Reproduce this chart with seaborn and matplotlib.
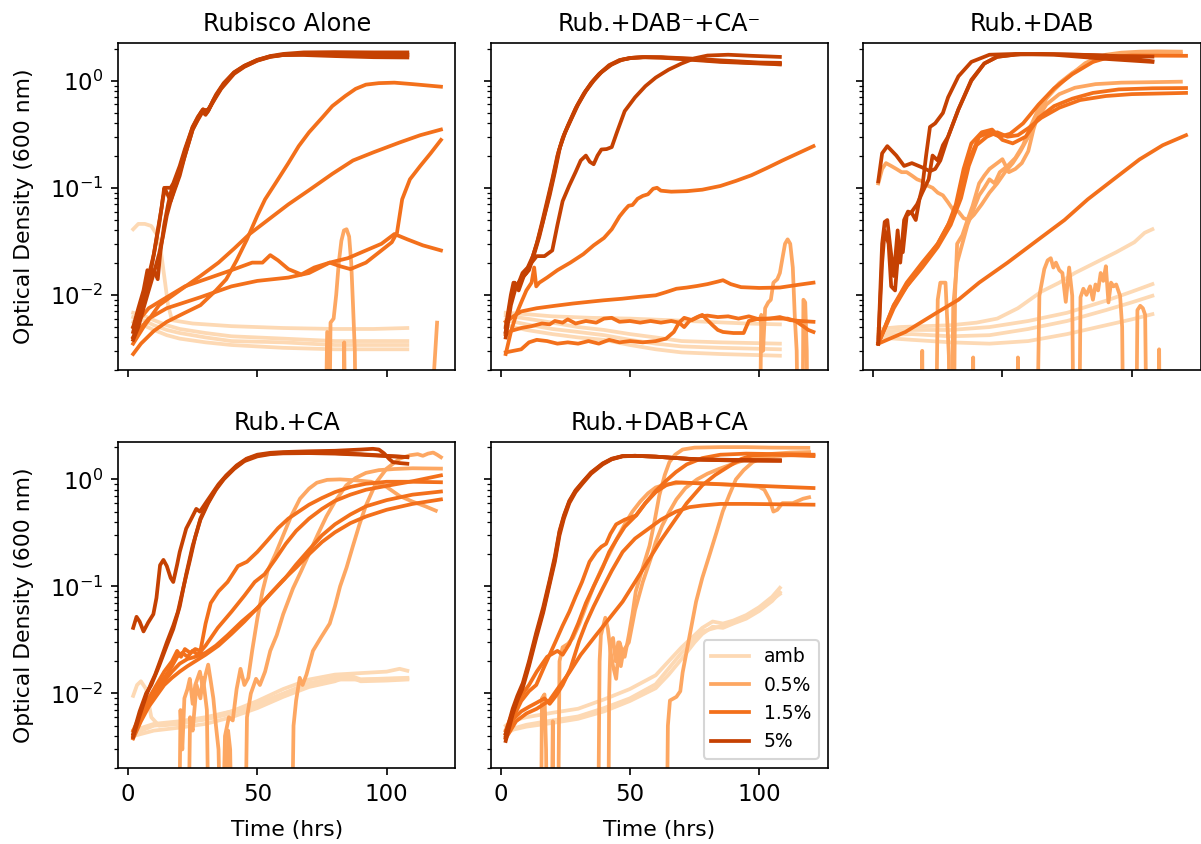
import pandas as pd
import matplotlib
matplotlib.use("Agg")
import matplotlib.pyplot as plt
from matplotlib.lines import Line2D
import seaborn as sns

# CO2 levels and panel titles
co2_levels = ["amb", "0.5%", "1.5%", "5%"]
panel_titles = ["Rubisco Alone", "Rub.+DAB\u207b+CA\u207b", "Rub.+DAB", "Rub.+CA", "Rub.+DAB+CA"]

# each curve is a list of [time (hrs), OD600]; 1e-4 = reading below the axis (blank-subtracted <= 0)

# ---- Rubisco Alone ----
alone_amb = [
    [[2, 0.041], [4, 0.046], [6.5, 0.046], [9, 0.044], [11, 0.037], [12.5, 0.028], [14, 0.015], [15.5, 0.008],
     [17, 0.0058], [25, 0.0054], [40, 0.0051], [60, 0.0049], [80, 0.0048], [95, 0.0048], [108, 0.0049]],
    [[2, 0.0068], [6, 0.0064], [10, 0.0058], [15, 0.0052], [20, 0.0048], [30, 0.0044], [40, 0.0041], [60, 0.0039],
     [80, 0.0037], [108, 0.0037]],
    [[2, 0.0062], [6, 0.0058], [10, 0.0052], [15, 0.0047], [20, 0.0044], [30, 0.004], [40, 0.0037], [60, 0.0036],
     [80, 0.0034], [108, 0.0034]],
    [[2, 0.0056], [6, 0.0052], [10, 0.0047], [15, 0.0042], [20, 0.0039], [30, 0.0036], [40, 0.0034], [60, 0.0032],
     [80, 0.0031], [108, 0.0031]],
]
alone_p05 = [
    [[2, 1e-4], [76, 1e-4], [77, 0.0045], [77.6, 1e-4], [78.3, 0.0055], [79.5, 0.006], [80.5, 0.01], [81.5, 0.02],
     [82.5, 0.032], [83.5, 0.04], [84.5, 0.041], [85.5, 0.035], [86.3, 0.02], [87, 0.008], [87.7, 0.003],
     [88.3, 1e-4], [121, 1e-4]],
    [[2, 1e-4], [83, 1e-4], [83.6, 0.0036], [84.3, 1e-4], [115, 1e-4], [119.5, 0.0055]],
]
alone_p15 = [
    [[2, 0.0035], [6, 0.005], [12, 0.008], [20, 0.011], [28, 0.015], [35, 0.02], [41, 0.027], [47, 0.037],
     [55, 0.052], [62, 0.07], [70, 0.095], [79, 0.135], [87, 0.18], [95, 0.215], [105, 0.265], [113, 0.31],
     [121, 0.35]],
    [[2, 0.0028], [5, 0.0035], [10, 0.0046], [15, 0.0056], [22, 0.0068], [28, 0.008], [34, 0.011], [38, 0.014],
     [42, 0.021], [46, 0.033], [50, 0.055], [53, 0.078], [57, 0.11], [62, 0.17], [66, 0.245], [70, 0.33],
     [75, 0.45], [79, 0.58], [84, 0.72], [88, 0.84], [92, 0.92], [97, 0.95], [103, 0.96], [110, 0.93], [121, 0.88]],
    [[2, 0.005], [8, 0.0075], [15, 0.0095], [22, 0.012], [30, 0.014], [40, 0.017], [48, 0.02], [52, 0.02],
     [55, 0.0235], [58, 0.021], [62, 0.0174], [67, 0.0155], [72, 0.018], [78, 0.02], [85, 0.022], [92, 0.026],
     [98, 0.03], [103, 0.037], [108, 0.033], [114, 0.029], [121, 0.026]],
    [[2, 0.004], [8, 0.006], [15, 0.0075], [28, 0.0095], [40, 0.012], [50, 0.0135], [62, 0.0145], [70, 0.016],
     [78, 0.02], [82, 0.0185], [86, 0.0174], [92, 0.02], [98, 0.026], [102, 0.031], [104, 0.038], [106, 0.078],
     [109, 0.12], [113, 0.16], [117, 0.21], [121, 0.28]],
]
alone_p5 = [
    [[2, 0.0045], [4, 0.007], [6, 0.01], [8, 0.015], [10, 0.024], [12, 0.045], [13.5, 0.08], [14.5, 0.1],
     [16.5, 0.1], [17.5, 0.11], [20, 0.16], [22, 0.23], [25, 0.37], [27, 0.45], [28.5, 0.52], [30, 0.48],
     [31.5, 0.56], [34, 0.74], [37, 0.95], [41, 1.2], [45, 1.38], [50, 1.56], [55, 1.7], [60, 1.78], [68, 1.84],
     [80, 1.85], [95, 1.84], [108, 1.84]],
    [[2, 0.004], [4, 0.0055], [6, 0.0085], [8, 0.012], [10, 0.017], [11.5, 0.014], [12.5, 0.025], [14, 0.045],
     [15.5, 0.07], [17, 0.1], [18.5, 0.105], [20, 0.14], [22, 0.2], [25, 0.35], [27, 0.44], [29, 0.54],
     [30.5, 0.5], [32, 0.58], [34, 0.72], [37, 0.93], [41, 1.18], [45, 1.36], [50, 1.55], [55, 1.68], [60, 1.75],
     [68, 1.78], [80, 1.77], [95, 1.74], [108, 1.73]],
    [[2, 0.005], [4, 0.0075], [6, 0.011], [7.5, 0.017], [8.5, 0.015], [10, 0.024], [11.5, 0.04], [13, 0.065],
     [14, 0.1], [15, 0.09], [16.5, 0.075], [18, 0.1], [20, 0.15], [22, 0.22], [25, 0.37], [27, 0.46],
     [29, 0.54], [31, 0.52], [33, 0.66], [36, 0.86], [41, 1.19], [45, 1.38], [50, 1.57], [55, 1.69], [60, 1.74],
     [68, 1.74], [80, 1.7], [95, 1.66], [108, 1.65]],
    [[2, 0.0038], [4, 0.005], [6, 0.0075], [8, 0.011], [10, 0.016], [12, 0.024], [13.5, 0.035], [15, 0.055],
     [16.5, 0.075], [18, 0.095], [20, 0.13], [22, 0.2], [25, 0.35], [27, 0.43], [29, 0.52], [31, 0.54],
     [33, 0.64], [36, 0.84], [41, 1.16], [45, 1.35], [50, 1.54], [55, 1.67], [60, 1.74], [68, 1.78],
     [80, 1.77], [95, 1.76], [108, 1.76]],
]

# ---- Rub.+DAB-+CA- ----
dabmut_amb = [
    [[2, 0.0068], [10, 0.0066], [20, 0.0063], [35, 0.0061], [50, 0.006], [65, 0.0058], [80, 0.0056], [95, 0.0054],
     [108, 0.0053]],
    [[2, 0.0064], [10, 0.006], [20, 0.0055], [30, 0.005], [40, 0.0047], [50, 0.0043], [60, 0.004], [70, 0.0037],
     [85, 0.0036], [108, 0.0035]],
    [[2, 0.0058], [10, 0.0053], [20, 0.0048], [30, 0.0045], [40, 0.0042], [50, 0.0038], [60, 0.0035], [70, 0.0033],
     [85, 0.0032], [108, 0.0031]],
    [[2, 0.0052], [10, 0.0047], [20, 0.0043], [30, 0.004], [40, 0.0038], [50, 0.0034], [60, 0.0031], [70, 0.0029],
     [85, 0.0028], [108, 0.0027]],
]
dabmut_p05 = [
    [[2, 1e-4], [100, 1e-4], [100.8, 0.0065], [101.5, 0.003], [102.3, 0.0075], [103.5, 0.0085], [104.5, 0.009],
     [105.5, 0.013], [107, 0.014], [108, 0.016], [109, 0.022], [110, 0.03], [111, 0.033], [112, 0.03],
     [113, 0.018], [113.8, 0.006], [114.5, 0.003], [115.3, 1e-4], [116.6, 1e-4], [117.1, 0.009], [117.8, 0.0085],
     [118.4, 0.003], [118.9, 1e-4], [121, 1e-4]],
]
dabmut_p15 = [
    [[2, 0.0028], [4, 0.0045], [6, 0.0065], [8, 0.0085], [10, 0.011], [12, 0.013], [13, 0.018], [13.8, 0.012],
     [15, 0.013], [18, 0.0145], [22, 0.017], [27, 0.02], [32, 0.024], [36, 0.029], [40, 0.034], [43, 0.041],
     [46, 0.054], [48, 0.062], [49.5, 0.068], [51, 0.069], [53, 0.079], [55, 0.084], [57, 0.087], [59, 0.098],
     [60.5, 0.1], [62, 0.094], [66, 0.092], [72, 0.093], [78, 0.096], [85, 0.104], [91, 0.116], [97, 0.131],
     [103, 0.153], [109, 0.18], [115, 0.21], [121, 0.245]],
    [[2, 0.0056], [5, 0.0063], [8, 0.007], [14, 0.0075], [21, 0.0079], [28, 0.0083], [34, 0.0086], [40, 0.0089],
     [47, 0.0092], [54, 0.0096], [60, 0.0099], [64, 0.0106], [68, 0.0114], [72, 0.0117], [76, 0.0121],
     [80, 0.0126], [84, 0.0133], [86, 0.0137], [89, 0.0126], [93, 0.0118], [100, 0.0116], [108, 0.0117],
     [115, 0.0124], [121, 0.013]],
    [[2, 0.0042], [4, 0.0046], [8, 0.0049], [12, 0.0051], [16, 0.0054], [19, 0.0053], [21, 0.0057], [24, 0.0055],
     [26, 0.0059], [29, 0.0054], [33, 0.0057], [37, 0.0055], [40, 0.006], [43, 0.0061], [46, 0.0056],
     [50, 0.0057], [54, 0.0055], [58, 0.0057], [62, 0.0055], [66, 0.0057], [69, 0.0055], [71, 0.0061],
     [74, 0.0058], [77, 0.0063], [80, 0.0064], [84, 0.0062], [88, 0.0063], [92, 0.006], [96, 0.0063],
     [100, 0.0059], [104, 0.006], [108, 0.0062], [112, 0.0058], [116, 0.0057], [121, 0.0056]],
    [[2, 0.0029], [5, 0.003], [8, 0.0031], [11, 0.0036], [14, 0.0038], [18, 0.0037], [22, 0.0035], [26, 0.0036],
     [30, 0.0035], [34, 0.0037], [38, 0.0035], [42, 0.0038], [46, 0.0036], [50, 0.0037], [55, 0.0036],
     [60, 0.0037], [64, 0.0039], [67, 0.0045], [69, 0.0055], [71, 0.005], [73, 0.0057], [76, 0.0062],
     [78, 0.0065], [80, 0.0058], [82, 0.0052], [84, 0.0047], [86, 0.0045], [90, 0.0044], [94, 0.0044],
     [96, 0.0057], [100, 0.006], [106, 0.006], [111, 0.006], [114, 0.0057], [117, 0.0051], [119, 0.0047],
     [121, 0.0045]],
]
dabmut_p5 = [
    [[2, 0.0045], [4, 0.009], [5.5, 0.013], [7, 0.011], [9, 0.015], [11, 0.017], [13, 0.024], [15, 0.035],
     [17, 0.055], [19, 0.085], [21, 0.14], [23, 0.24], [25, 0.33], [27, 0.42], [30, 0.6], [33, 0.8], [36, 1.0],
     [39, 1.2], [43, 1.42], [47, 1.57], [51, 1.64], [56, 1.66], [63, 1.64], [72, 1.58], [85, 1.5], [100, 1.45],
     [108, 1.44]],
    [[2, 0.004], [4, 0.008], [6, 0.012], [8, 0.014], [10, 0.016], [12, 0.021], [14, 0.03], [16, 0.047],
     [18, 0.075], [20, 0.12], [22, 0.2], [24, 0.29], [26, 0.38], [29, 0.55], [32, 0.74], [35, 0.95], [38, 1.15],
     [42, 1.38], [46, 1.55], [50, 1.63], [55, 1.66], [62, 1.65], [72, 1.6], [85, 1.52], [100, 1.46], [108, 1.42]],
    [[2, 0.005], [4, 0.01], [5, 0.013], [6.5, 0.012], [8.5, 0.016], [10.5, 0.018], [12.5, 0.023], [14.5, 0.033],
     [16.5, 0.05], [18.5, 0.08], [20.5, 0.13], [22.5, 0.22], [24.5, 0.31], [26.5, 0.4], [29.5, 0.58],
     [32.5, 0.78], [35.5, 0.98], [38.5, 1.18], [42, 1.4], [46, 1.56], [50, 1.63], [55, 1.66], [62, 1.66],
     [72, 1.62], [85, 1.55], [100, 1.48], [108, 1.47]],
    [[2, 0.0045], [4, 0.009], [6, 0.012], [8, 0.014], [10, 0.017], [12, 0.02], [14, 0.023], [17, 0.023],
     [20, 0.026], [22, 0.045], [24, 0.075], [26.5, 0.104], [29, 0.14], [31, 0.18], [33, 0.2], [34.5, 0.175],
     [36, 0.166], [37.5, 0.2], [39, 0.228], [41, 0.23], [43, 0.24], [45, 0.33], [48, 0.52], [52, 0.7],
     [56, 0.89], [60, 1.07], [65, 1.27], [70, 1.45], [75, 1.62], [80, 1.72], [88, 1.75], [97, 1.71], [108, 1.67]],
]

# ---- Rub.+DAB ----
dab_amb = [
    [[2, 0.0048], [10, 0.005], [20, 0.0051], [30, 0.0052], [40, 0.0055], [48, 0.006], [56, 0.0075], [65, 0.0107],
     [72, 0.013], [78, 0.016], [86, 0.02], [94, 0.025], [101, 0.031], [105, 0.038], [108, 0.041]],
    [[2, 0.0045], [15, 0.0047], [30, 0.0047], [45, 0.005], [60, 0.0057], [75, 0.0068], [90, 0.0088],
     [100, 0.0107], [108, 0.0126]],
    [[2, 0.0042], [15, 0.0043], [30, 0.0041], [45, 0.0042], [60, 0.0048], [75, 0.0057], [90, 0.0072],
     [100, 0.0085], [108, 0.0098]],
    [[2, 0.004], [15, 0.0038], [30, 0.0036], [45, 0.0035], [60, 0.0037], [75, 0.0043], [90, 0.0052],
     [100, 0.0059], [108, 0.0066]],
]
dab_p05 = [
    [[2, 1e-4], [24, 1e-4], [25, 0.009], [26, 0.013], [28, 0.013], [29.3, 0.0027], [29.8, 1e-4], [31, 1e-4],
     [31.7, 0.01], [32.5, 0.03], [34.5, 0.036], [36.5, 0.05], [38.5, 0.068], [41, 0.11], [43, 0.13], [45, 0.15],
     [48, 0.17], [50, 0.185], [52.5, 0.14], [55, 0.15], [57.5, 0.17], [60, 0.22], [62, 0.35], [64, 0.5],
     [67, 0.68], [70, 0.82], [74, 1.02], [78, 1.22], [82, 1.46], [86, 1.62], [90, 1.75], [96, 1.83],
     [103, 1.87], [110, 1.88], [119, 1.87]],
    [[2, 1e-4], [30, 1e-4], [31, 0.008], [32.5, 0.02], [34.5, 0.03], [36.5, 0.045], [38.5, 0.06], [41, 0.085],
     [43, 0.1], [45, 0.12], [47, 0.11], [49, 0.14], [52, 0.16], [55, 0.19], [58, 0.25], [61, 0.38], [64, 0.55],
     [68, 0.75], [72, 0.95], [77, 1.18], [82, 1.4], [87, 1.58], [92, 1.7], [100, 1.78], [110, 1.8], [119, 1.79]],
    [[2, 0.11], [3.5, 0.15], [5, 0.17], [7, 0.16], [9, 0.15], [11, 0.14], [13, 0.14], [15, 0.13], [17, 0.12],
     [19, 0.115], [21, 0.105], [23, 0.1], [25, 0.09], [27, 0.085], [29, 0.073], [31, 0.062], [33, 0.06],
     [35, 0.052], [37, 0.05], [39, 0.056], [42, 0.07], [45, 0.09], [48, 0.11], [51, 0.14], [54, 0.17],
     [57, 0.22], [60, 0.3], [63, 0.42], [67, 0.6], [72, 0.75], [78, 0.86], [86, 0.93], [96, 0.96], [108, 0.97],
     [119, 0.98]],
    [[2, 1e-4], [18.5, 1e-4], [19, 0.003], [19.5, 1e-4], [38.3, 1e-4], [38.7, 0.0026], [39.1, 1e-4],
     [55.7, 1e-4], [56, 0.0026], [56.4, 1e-4], [63, 1e-4], [64.3, 0.0098], [66.2, 0.0174], [67.5, 0.021],
     [68.7, 0.022], [69.7, 0.018], [70.7, 0.02], [72, 0.017], [73.2, 0.016], [74.5, 0.0086], [75.8, 0.018],
     [77, 0.0098], [77.7, 1e-4], [79.5, 1e-4], [80.2, 0.0095], [81.3, 0.0114], [82.5, 0.01], [83.9, 0.012],
     [85, 0.009], [86, 0.0125], [87, 0.011], [88, 0.016], [89, 0.0135], [90, 0.0185], [91, 0.0085],
     [92, 0.013], [93, 0.012], [94, 0.0125], [95.5, 0.0098], [96.3, 0.005], [97, 1e-4], [101.5, 1e-4],
     [102.2, 0.0072], [103.3, 0.0079], [104.3, 0.0075], [105.2, 0.0065], [106, 1e-4], [110.2, 1e-4],
     [110.6, 0.0031], [111, 1e-4], [121, 1e-4]],
]
dab_p15 = [
    [[2, 0.0035], [8, 0.008], [13, 0.013], [19, 0.02], [25, 0.03], [29, 0.045], [32, 0.07], [35, 0.15],
     [38, 0.26], [42, 0.33], [46, 0.35], [50, 0.28], [54, 0.26], [59, 0.3], [64, 0.45], [70, 0.58], [77, 0.68],
     [85, 0.77], [95, 0.83], [108, 0.85], [121, 0.855]],
    [[2, 0.0035], [8, 0.0075], [13, 0.012], [19, 0.018], [25, 0.028], [30, 0.045], [34, 0.08], [37, 0.16],
     [40, 0.25], [44, 0.3], [48, 0.33], [52, 0.3], [56, 0.31], [60, 0.36], [65, 0.45], [72, 0.56], [80, 0.66],
     [90, 0.72], [100, 0.75], [121, 0.77]],
    [[2, 0.0035], [8, 0.008], [13, 0.012], [19, 0.019], [25, 0.03], [30, 0.05], [34, 0.09], [37, 0.18],
     [41, 0.3], [45, 0.33], [49, 0.3], [53, 0.32], [58, 0.4], [64, 0.6], [70, 0.85], [77, 1.15], [85, 1.5],
     [92, 1.68], [100, 1.72], [121, 1.71]],
    [[2, 0.0035], [12.5, 0.0045], [25, 0.0069], [33, 0.009], [41, 0.013], [52, 0.02], [64, 0.033], [74, 0.05],
     [83, 0.078], [93, 0.12], [103, 0.184], [112, 0.25], [121, 0.31]],
]
dab_p5 = [
    [[2, 0.115], [3.5, 0.21], [5.5, 0.245], [9, 0.2], [12, 0.16], [15, 0.17], [19, 0.155], [22, 0.143],
     [24, 0.15], [26, 0.18], [29, 0.3], [33, 0.54], [38, 1.0], [43, 1.45], [48, 1.67], [55, 1.76], [65, 1.78],
     [80, 1.75], [95, 1.7], [108, 1.68]],
    [[2, 0.0035], [3.5, 0.03], [4.5, 0.048], [5.5, 0.05], [6.5, 0.03], [8, 0.015], [9.5, 0.04], [10.5, 0.02],
     [12, 0.05], [13.5, 0.06], [15, 0.058], [16.5, 0.05], [18, 0.08], [19, 0.1], [20.5, 0.2], [22, 0.37],
     [24, 0.4], [27, 0.5], [29, 0.7], [33, 1.1], [38, 1.5], [45, 1.75], [55, 1.78], [70, 1.77], [90, 1.72],
     [108, 1.52]],
    [[2, 0.0035], [3.5, 0.02], [4.5, 0.04], [6, 0.03], [7, 0.012], [8.5, 0.011], [10, 0.03], [11.5, 0.025],
     [13, 0.055], [15, 0.06], [17, 0.07], [19, 0.09], [21.5, 0.12], [23, 0.2], [25, 0.18], [27, 0.25], [29, 0.3],
     [33, 0.54], [38, 1.02], [43, 1.45], [48, 1.68], [57, 1.77], [70, 1.75], [90, 1.6], [108, 1.5]],
]

# ---- Rub.+CA ----
ca_amb = [
    [[2, 0.0095], [3.5, 0.012], [5, 0.013], [7, 0.011], [9, 0.006], [12, 0.005], [20, 0.0052], [30, 0.0058],
     [40, 0.0068], [50, 0.0085], [60, 0.011], [70, 0.0135], [80, 0.015], [90, 0.0155], [100, 0.016],
     [105, 0.017], [108, 0.0163]],
    [[2, 0.0045], [10, 0.0052], [20, 0.0055], [30, 0.006], [40, 0.0068], [50, 0.008], [60, 0.01], [70, 0.0125],
     [80, 0.014], [85, 0.015], [90, 0.0135], [100, 0.0138], [108, 0.014]],
    [[2, 0.004], [10, 0.0045], [20, 0.0048], [30, 0.0052], [40, 0.006], [50, 0.0073], [60, 0.0093],
     [70, 0.0115], [80, 0.013], [85, 0.0145], [90, 0.013], [100, 0.0132], [108, 0.0135]],
    [[2, 0.0042], [10, 0.005], [20, 0.0053], [30, 0.0057], [40, 0.0065], [50, 0.0078], [60, 0.0098],
     [70, 0.012], [80, 0.0135], [90, 0.0135], [108, 0.0138]],
]
ca_p05 = [
    [[2, 1e-4], [36, 1e-4], [37.5, 0.004], [39, 0.006], [40.5, 0.0056], [42, 0.011], [43.5, 0.017], [45, 0.012],
     [46.5, 0.014], [48, 0.025], [50, 0.05], [52, 0.09], [54, 0.14], [57, 0.2], [60, 0.3], [63, 0.45],
     [66.5, 0.66], [70, 0.82], [73, 0.93], [77, 0.99], [82, 1.0], [88, 0.98], [94, 0.95], [100, 0.85],
     [105, 0.7], [110, 0.62], [115, 0.56], [119, 0.51]],
    [[2, 1e-4], [45, 1e-4], [46, 0.006], [47.5, 0.01], [49.5, 0.0137], [51, 0.012], [53, 0.016], [55, 0.025],
     [57.5, 0.035], [60, 0.055], [63.8, 0.096], [67, 0.14], [70.3, 0.21], [73.5, 0.31], [76.7, 0.45],
     [80, 0.62], [84.4, 0.88], [88, 1.03], [92, 1.15], [97, 1.22], [103, 1.25], [110, 1.27], [121, 1.26]],
    [[2, 1e-4], [63, 1e-4], [64, 0.005], [65, 0.0086], [66.4, 0.014], [67.5, 0.012], [69, 0.015], [71.5, 0.025],
     [74.5, 0.033], [78, 0.045], [80, 0.065], [82, 0.1], [84.5, 0.15], [87, 0.24], [89.5, 0.38], [92, 0.57],
     [96, 0.94], [100, 1.26], [105, 1.56], [109, 1.68], [112, 1.72], [114, 1.66], [116, 1.74], [118, 1.78],
     [119.5, 1.7], [121, 1.61]],
    [[2, 1e-4], [19.5, 1e-4], [20.3, 0.007], [21, 0.003], [21.8, 0.009], [23, 0.011], [23.9, 0.0137],
     [25, 0.008], [26, 0.012], [27.8, 0.016], [29, 0.011], [30, 0.015], [31, 0.0186], [32, 0.013], [33, 0.009],
     [34, 0.005], [35, 0.003], [36.3, 1e-4], [38, 1e-4], [38.7, 0.0045], [39.5, 0.003], [40.5, 1e-4],
     [121, 1e-4]],
    [[2, 1e-4], [23, 1e-4], [24, 0.006], [25, 0.0045], [26.5, 0.012], [28, 0.009], [29, 0.014], [30.5, 0.007],
     [31.5, 1e-4], [121, 1e-4]],
]
ca_p15 = [
    [[2, 0.004], [5, 0.0065], [8, 0.009], [11, 0.012], [14, 0.016], [17, 0.02], [19, 0.025], [20.5, 0.022],
     [22, 0.026], [24, 0.024], [26, 0.026], [28, 0.025], [30, 0.045], [32, 0.07], [35, 0.09], [38.5, 0.11],
     [42.5, 0.155], [46, 0.17], [50, 0.21], [54, 0.27], [58, 0.35], [62, 0.43], [66, 0.5], [70, 0.58],
     [75, 0.67], [80, 0.76], [86, 0.85], [92, 0.91], [100, 0.95], [110, 0.95], [121, 0.94]],
    [[2, 0.0045], [5, 0.0065], [8, 0.0085], [11, 0.011], [14, 0.014], [17, 0.018], [19, 0.022], [21, 0.024],
     [23, 0.022], [25, 0.025], [27, 0.023], [30, 0.028], [34.7, 0.041], [40, 0.058], [45, 0.082], [49, 0.11],
     [52.8, 0.13], [57, 0.18], [61, 0.25], [65, 0.33], [70, 0.43], [75, 0.53], [80, 0.63], [86, 0.72],
     [92, 0.8], [100, 0.87], [110, 0.96], [121, 1.09]],
    [[2, 0.004], [5, 0.006], [8, 0.008], [11, 0.01], [14, 0.013], [17, 0.016], [20, 0.019], [23, 0.021],
     [26, 0.022], [30, 0.024], [34, 0.028], [38.5, 0.035], [44, 0.047], [50.2, 0.063], [55, 0.085],
     [60.5, 0.117], [65, 0.16], [70, 0.22], [75, 0.3], [80, 0.38], [86, 0.47], [92, 0.56], [100, 0.64],
     [110, 0.72], [121, 0.77]],
    [[2, 0.0038], [5, 0.0055], [8, 0.0075], [11, 0.0095], [14, 0.012], [17, 0.014], [20, 0.016], [23, 0.018],
     [26, 0.02], [30, 0.023], [35, 0.028], [40, 0.036], [45, 0.047], [50, 0.063], [55, 0.085], [60, 0.115],
     [65, 0.15], [70, 0.2], [75, 0.26], [80, 0.32], [86, 0.39], [92, 0.45], [100, 0.52], [110, 0.59],
     [121, 0.65]],
]
ca_p5 = [
    [[2, 0.041], [3.3, 0.052], [4.5, 0.047], [6, 0.038], [7.8, 0.046], [9.8, 0.055], [11, 0.078], [12.4, 0.158],
     [13.7, 0.177], [15, 0.155], [16.5, 0.12], [17.5, 0.11], [19, 0.16], [20, 0.21], [22.5, 0.347],
     [24.5, 0.43], [26.4, 0.53], [27.8, 0.5], [30, 0.6], [32.9, 0.76], [35, 0.9], [38, 1.09], [42, 1.35],
     [45.8, 1.56], [50, 1.7], [55, 1.77], [60, 1.8], [70, 1.83], [80, 1.85], [90, 1.9], [94.7, 1.93],
     [97, 1.9], [99, 1.75], [101, 1.55], [102.4, 1.45], [105, 1.42], [108, 1.4]],
    [[2, 0.0039], [4.5, 0.0062], [7.2, 0.0098], [9, 0.0125], [10.5, 0.015], [12.9, 0.0216], [15, 0.03],
     [17.5, 0.043], [19.3, 0.058], [21.5, 0.1], [23.8, 0.17], [26, 0.29], [28, 0.43], [30, 0.55], [32.9, 0.74],
     [35, 0.88], [38, 1.08], [42, 1.33], [46, 1.55], [50, 1.67], [55, 1.74], [60, 1.77], [70, 1.78],
     [80, 1.76], [90, 1.72], [100, 1.66], [108, 1.61]],
    [[2, 0.0042], [4.5, 0.0068], [7, 0.01], [9, 0.012], [12, 0.018], [15, 0.028], [17.5, 0.04], [20, 0.065],
     [22.5, 0.13], [25, 0.24], [28, 0.42], [31, 0.6], [34, 0.8], [37, 1.0], [41, 1.25], [45, 1.48], [50, 1.64],
     [55, 1.72], [60, 1.75], [70, 1.76], [80, 1.74], [90, 1.7], [100, 1.65], [108, 1.62]],
]

# ---- Rub.+DAB+CA ----
dabca_amb = [
    [[2, 0.005], [5, 0.0056], [10, 0.006], [20, 0.0066], [30, 0.0072], [40, 0.0088], [50, 0.011], [60, 0.0148],
     [65, 0.02], [70, 0.027], [75, 0.035], [78, 0.041], [82, 0.047], [86, 0.045], [90, 0.048], [95, 0.054],
     [100, 0.064], [105, 0.08], [108, 0.097]],
    [[2, 0.0042], [5, 0.0046], [10, 0.0049], [20, 0.0053], [30, 0.0058], [40, 0.0068], [50, 0.0085],
     [60, 0.0112], [65, 0.015], [70, 0.021], [75, 0.03], [78, 0.036], [82, 0.042], [86, 0.041], [90, 0.045],
     [95, 0.05], [100, 0.059], [105, 0.073], [108, 0.088]],
    [[2, 0.0045], [10, 0.0051], [20, 0.0056], [30, 0.0061], [40, 0.0073], [50, 0.009], [60, 0.0122],
     [70, 0.024], [78, 0.038], [86, 0.043], [95, 0.052], [100, 0.062], [108, 0.085]],
]
dabca_p05 = [
    [[2, 1e-4], [37.5, 1e-4], [38.3, 0.02], [38.8, 0.035], [40.5, 0.051], [41.5, 0.04], [42.5, 0.025],
     [43.5, 0.018], [44.7, 0.0137], [46, 0.03], [47, 0.025], [48, 0.022], [49.6, 0.035], [51, 0.055],
     [52.3, 0.09], [55, 0.15], [57.6, 0.24], [59.5, 0.4], [61.4, 0.71], [63.5, 1.1], [65.3, 1.45], [67.5, 1.7],
     [70.4, 1.9], [75, 1.98], [85, 2.0], [95, 2.0], [105, 1.98], [119, 1.97]],
    [[2, 1e-4], [41.5, 1e-4], [42, 0.01], [42.5, 0.03], [43.5, 0.033], [44.5, 0.02], [45.5, 0.03],
     [46.5, 0.018], [47.5, 0.025], [49.6, 0.03], [52, 0.06], [55, 0.11], [58, 0.18], [60, 0.26], [62.5, 0.37],
     [65.3, 0.5], [68, 0.65], [71.5, 0.83], [76, 1.0], [80, 1.13], [84.4, 1.25], [90, 1.4], [97, 1.6],
     [105, 1.73], [112, 1.78], [119.3, 1.8]],
    [[2, 1e-4], [64, 1e-4], [64.7, 0.005], [65.5, 0.0086], [68, 0.0093], [69.5, 0.0105], [70.4, 0.0157],
     [72, 0.025], [74, 0.045], [75.6, 0.072], [78, 0.12], [80.8, 0.197], [83.5, 0.32], [85.9, 0.5],
     [88.5, 0.72], [91, 1.0], [94, 1.22], [97.5, 1.45], [101, 1.58], [106, 1.65], [112, 1.68], [119, 1.7]],
    [[2, 1e-4], [15.5, 1e-4], [16, 0.009], [17, 0.0098], [17.6, 0.003], [18.2, 1e-4], [19.5, 1e-4],
     [20.2, 0.0055], [20.8, 1e-4], [22, 1e-4], [22.8, 0.02], [24, 0.027], [26, 0.029], [28, 0.033],
     [30.5, 0.045], [33, 0.065], [36, 0.1], [39, 0.145], [42, 0.2], [45, 0.28], [48, 0.38], [51, 0.5],
     [54, 0.62], [57, 0.74], [60, 0.84], [64, 0.9], [70, 0.93], [78, 0.92], [86, 0.9], [92, 0.88], [96, 0.87],
     [100, 0.85], [102, 0.8], [104, 0.65], [105.5, 0.5], [107, 0.52], [109, 0.6], [113, 0.6], [117, 0.66],
     [119.3, 0.68]],
]
dabca_p15 = [
    [[2, 0.004], [5, 0.006], [8, 0.0085], [11, 0.0105], [13.8, 0.012], [17, 0.018], [21.4, 0.031], [24, 0.043],
     [26.6, 0.058], [29, 0.08], [31.5, 0.11], [34.4, 0.17], [37, 0.21], [39, 0.235], [40.8, 0.25],
     [42.5, 0.31], [44.7, 0.38], [48, 0.42], [52.4, 0.46], [56, 0.6], [60, 0.76], [64, 0.88], [67.8, 0.94],
     [72, 0.93], [80, 0.91], [90, 0.89], [100, 0.87], [110, 0.85], [121, 0.83]],
    [[2, 0.0042], [5, 0.0058], [8, 0.0068], [11, 0.0075], [14, 0.0082], [17, 0.009], [19, 0.008],
     [21.4, 0.0095], [24, 0.012], [27, 0.017], [30.4, 0.031], [33, 0.045], [36, 0.065], [39.5, 0.096],
     [43, 0.14], [47.2, 0.21], [52, 0.28], [57.5, 0.35], [62, 0.42], [67.8, 0.5], [73, 0.55], [78, 0.57],
     [85, 0.59], [95, 0.59], [108, 0.585], [121, 0.58]],
    [[2, 0.0038], [6, 0.0055], [10, 0.0065], [14, 0.0072], [18.9, 0.0086], [22, 0.011], [26.6, 0.0157],
     [31, 0.023], [36.9, 0.035], [42, 0.05], [47.2, 0.072], [52, 0.11], [57.5, 0.18], [62, 0.27],
     [67.8, 0.43], [72, 0.6], [78, 0.88], [83, 1.1], [88.4, 1.33], [93, 1.55], [97.4, 1.68], [105, 1.7],
     [113, 1.68], [121, 1.65]],
    [[2, 0.0045], [5, 0.007], [8, 0.0095], [11, 0.012], [14, 0.016], [18, 0.022], [22, 0.025], [24, 0.023],
     [26.6, 0.029], [30, 0.045], [33, 0.07], [36, 0.1], [39.5, 0.15], [42, 0.21], [44.7, 0.27], [48, 0.36],
     [52.4, 0.46], [56, 0.6], [60, 0.78], [64, 0.97], [67.8, 1.17], [72, 1.38], [78, 1.58], [85, 1.7],
     [95, 1.74], [108, 1.72], [121, 1.7]],
]
dabca_p5 = [
    [[2, 0.0039], [4.7, 0.0068], [6.5, 0.009], [8.6, 0.0119], [11, 0.019], [13.8, 0.035], [16.5, 0.06],
     [19, 0.11], [21, 0.18], [22.8, 0.32], [24.5, 0.45], [26.6, 0.62], [29, 0.78], [31.8, 0.94], [35, 1.15],
     [39.5, 1.4], [43, 1.55], [47.2, 1.65], [52, 1.66], [60, 1.63], [70, 1.57], [77, 1.53], [90, 1.51],
     [108, 1.5]],
    [[2, 0.0042], [4.7, 0.0072], [6.5, 0.0095], [8.6, 0.0125], [11, 0.02], [13.8, 0.037], [16.5, 0.064],
     [19, 0.115], [21, 0.19], [22.8, 0.33], [24.5, 0.46], [26.6, 0.63], [29, 0.79], [31.8, 0.95], [35, 1.16],
     [39.5, 1.41], [43, 1.56], [47.2, 1.65], [52, 1.66], [60, 1.63], [70, 1.57], [77, 1.54], [90, 1.52],
     [108, 1.51]],
    [[2, 0.0036], [4.7, 0.0064], [6.5, 0.0086], [8.6, 0.0113], [11, 0.018], [13.8, 0.033], [16.5, 0.057],
     [19, 0.105], [21, 0.17], [22.8, 0.3], [24.5, 0.43], [26.6, 0.6], [29, 0.76], [31.8, 0.92], [35, 1.13],
     [39.5, 1.38], [43, 1.54], [47.2, 1.64], [52, 1.66], [60, 1.63], [70, 1.57], [77, 1.53], [90, 1.5],
     [108, 1.49]],
]

panels = [
    [alone_amb, alone_p05, alone_p15, alone_p5],
    [dabmut_amb, dabmut_p05, dabmut_p15, dabmut_p5],
    [dab_amb, dab_p05, dab_p15, dab_p5],
    [ca_amb, ca_p05, ca_p15, ca_p5],
    [dabca_amb, dabca_p05, dabca_p15, dabca_p5],
]

# long table for seaborn
rows = []
for p, groups in enumerate(panels):
    for level, curves in zip(co2_levels, groups):
        for rep, curve in enumerate(curves):
            for t, od in curve:
                rows.append((p, level, rep, t, od))
df = pd.DataFrame(rows, columns=["panel", "co2", "rep", "time", "od"])

pal = sns.color_palette("Oranges", 4)

fig, axes = plt.subplots(2, 3, figsize=(1201 / 150, 844 / 150), dpi=150, sharex=True, sharey=True)
axes = axes.flatten()
for i, title in enumerate(panel_titles):
    ax = axes[i]
    ax.set_yscale("log")
    sns.lineplot(data=df[df.panel == i], x="time", y="od", hue="co2", hue_order=co2_levels,
                 units="rep", estimator=None, sort=False, palette=pal, lw=1.8, legend=False, ax=ax)
    ax.set_title(title, fontsize=11.5)
    ax.set_xlabel("Time (hrs)" if i >= 3 else "", fontsize=10.5, labelpad=7)
    ax.set_ylabel("Optical Density (600 nm)" if i % 3 == 0 else "", fontsize=10.5, labelpad=8)
    ax.tick_params(labelsize=11)

axes[5].remove()
axes[0].set_ylim(0.002, 2.23)
axes[0].set_xlim(-3.75, 126.6)
axes[0].set_xticks([0, 50, 100])

handles = [Line2D([], [], color=c, lw=1.8) for c in pal]
axes[4].legend(handles, co2_levels, loc="lower right", fontsize=9)

plt.subplots_adjust(left=0.0985, right=0.9996, bottom=0.0897, top=0.9485, wspace=0.105, hspace=0.222)
plt.savefig("out.png", dpi=150)
